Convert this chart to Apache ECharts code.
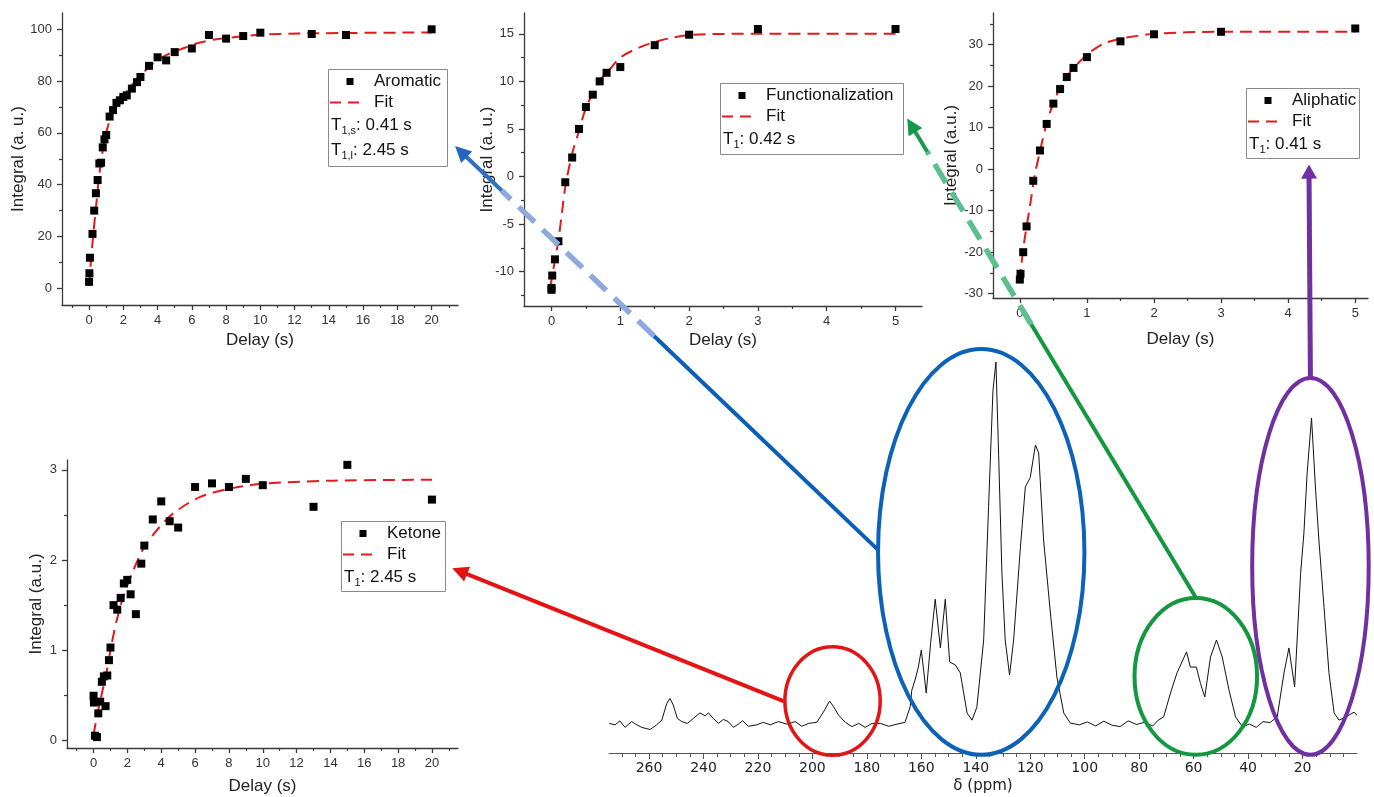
<!DOCTYPE html>
<html><head><meta charset="utf-8">
<script src="https://cdn.jsdelivr.net/npm/echarts@6/dist/echarts.min.js"></script>
<style>html,body{margin:0;padding:0;background:#fff}#c{width:1374px;height:797px}</style>
</head><body><div id="c"></div>
<script>
// ---------------- data ----------------
const aromaticX = [0, 0.02, 0.05, 0.2, 0.3, 0.4, 0.5, 0.6, 0.7, 0.8, 0.9, 1.0, 1.2, 1.4, 1.6, 1.8, 2.0, 2.2, 2.5, 2.8, 3.0, 3.5, 4.0, 4.5, 5.0, 6.0, 7.0, 8.0, 9.0, 10.0, 13.0, 15.0, 20.0];
const aromaticY = [2.5, 5.8, 11.8, 21, 30, 36.7, 41.8, 48.2, 48.5, 54.4, 57.5, 59.2, 66.3, 68.8, 71.6, 72.6, 73.9, 74.5, 77.1, 79.6, 81.6, 85.9, 89.2, 88, 91.2, 92.6, 97.8, 96.4, 97.4, 98.7, 98.2, 97.8, 100];
const aromaticFitX = [0, 0.1, 0.25, 0.41, 0.56, 0.74, 0.99, 1.32, 1.81, 2.39, 2.98, 3.75, 4.53, 5.51, 6.48, 7.45, 8.42, 9.98, 12.3, 20];
const aromaticFitY = [0.9, 9.7, 21.2, 31.5, 41.8, 50.8, 59.8, 66.9, 72.7, 77.6, 82.0, 86.9, 90.1, 92.7, 94.9, 96.2, 96.9, 97.9, 98.4, 98.8];

const funcX = [0, 0, 0.01, 0.05, 0.1, 0.2, 0.3, 0.4, 0.5, 0.6, 0.7, 0.8, 1.0, 1.5, 2.0, 3.0, 5.0];
const funcY = [-11.9, -11.7, -10.4, -8.7, -6.8, -0.6, 2.0, 5.0, 7.3, 8.6, 10.0, 10.9, 11.5, 13.8, 14.9, 15.5, 15.5];
const funcFitX = [-0.02, 0.04, 0.1, 0.15, 0.2, 0.3, 0.4, 0.49, 0.61, 0.7, 0.83, 1.0, 1.29, 1.58, 2.0, 3.0, 5.0];
const funcFitY = [-11.7, -9.2, -6.7, -3.9, -1.1, 2.4, 4.8, 7.0, 8.9, 10.1, 11.1, 12.5, 13.6, 14.3, 14.86, 15, 15];

const aliX = [0, 0.01, 0.05, 0.1, 0.2, 0.3, 0.4, 0.5, 0.6, 0.7, 0.8, 1.0, 1.5, 2.0, 3.0, 5.0];
const aliY = [-26.6, -25.2, -20.0, -13.8, -2.8, 4.5, 10.9, 15.8, 19.3, 22.2, 24.4, 27.0, 30.8, 32.5, 33.1, 33.9];
const aliFitX = [0, 0.02, 0.07, 0.15, 0.22, 0.3, 0.4, 0.5, 0.6, 0.72, 0.85, 1.0, 1.24, 1.49, 1.99, 2.98, 5.0];
const aliFitY = [-27, -23.4, -17, -9, -1.7, 4.3, 11.1, 15.9, 19.6, 22.8, 25.2, 27.6, 30.2, 31.4, 32.6, 33.1, 33.1];

const ketX = [0, 0.02, 0.08, 0.2, 0.28, 0.39, 0.49, 0.61, 0.71, 0.81, 0.91, 1.0, 1.18, 1.4, 1.6, 1.79, 1.99, 2.19, 2.5, 2.82, 3.0, 3.5, 4.0, 4.5, 5.0, 6.0, 7.0, 8.0, 9.0, 10.0, 13.0, 15.0, 20.0];
const ketY = [0.495, 0.42, 0.052, 0.037, 0.30, 0.43, 0.65, 0.71, 0.38, 0.72, 0.89, 1.03, 1.50, 1.45, 1.58, 1.74, 1.78, 1.62, 1.40, 1.96, 2.16, 2.45, 2.65, 2.43, 2.36, 2.81, 2.85, 2.81, 2.90, 2.83, 2.59, 3.055, 2.67];
const ketFitX = [0, 0.2, 0.49, 0.79, 1.08, 1.38, 1.77, 2.36, 2.96, 3.74, 4.73, 6.31, 8.28, 10.25, 14.19, 20];
const ketFitY = [0.06, 0.27, 0.52, 0.78, 1.08, 1.34, 1.6, 1.89, 2.13, 2.33, 2.52, 2.70, 2.80, 2.85, 2.88, 2.89];

const specPpm = [274.6, 272.5, 270.7, 268.8, 266.4, 264.5, 262.7, 259.6, 257.2, 255.3, 253.5, 252.3, 251.1, 249.6, 248.0, 245.9, 243.7, 241.3, 239.4, 238.2, 236.4, 234.5, 232.7, 230.9, 229.0, 227.2, 225.6, 223.5, 220.4, 218.0, 215.5, 212.5, 209.4, 206.3, 203.9, 201.4, 198.4, 195.9, 193.7, 192.2, 190.4, 187.9, 185.5, 183.0, 180.6, 178.1, 175.0, 172.0, 168.9, 166.0, 164.1, 163.5, 162.3, 161.1, 160.0, 158.2, 156.6, 154.9, 153.0, 151.2, 149.6, 147.5, 145.7, 143.2, 141.4, 139.6, 137.1, 135.3, 133.7, 132.6, 131.6, 130.4, 129.2, 127.6, 126.1, 123.6, 121.8, 120.0, 118.1, 116.9, 115.1, 112.6, 110.2, 107.7, 105.3, 102, 99, 96, 93, 90, 87, 84, 81, 78, 75, 73, 71.0, 68.5, 66.1, 62.6, 61.2, 59.0, 57.5, 55.9, 53.8, 51.6, 49.5, 47.0, 44.6, 42.1, 39.5, 37.0, 34.5, 32.0, 29.3, 26.8, 25.0, 22.9, 20.7, 19.5, 18.3, 16.7, 15.2, 14.0, 12.1, 10.3, 8.4, 6.6, 4.1, 1.1, 0];
const specInt = [-0.1, -0.5, 0.6, -1.2, 0.4, -0.5, -1.2, -1.8, -0.5, 0.8, 5.4, 6.8, 5.0, 1.3, 0.4, -0.1, 1.3, 2.8, 2.0, 2.8, 1.3, -0.1, 1.0, 0.4, -1.2, -0.3, 0.6, -0.9, -0.5, 0.2, -0.5, 0.4, -0.3, 0.4, -0.9, -0.1, 0.2, 3.1, 6.1, 4.5, 2.2, 0.2, -1.0, -0.1, -1.2, -0.1, -0.1, -0.9, -0.3, 0.2, 4.5, 9.1, 11.9, 15.5, 20.2, 8.3, 22, 34.3, 20.8, 34.3, 16.9, 16.1, 13.9, 2.8, 0.8, 4.4, 23, 60, 92, 100, 74, 41.5, 23, 13.3, 23, 48.8, 65.4, 68, 77, 74.8, 50.7, 30.5, 12.7, 2.8, 0, -0.5, 0.3, -0.8, 0.5, -0.6, -1.0, 0.6, -0.4, 0.2, -0.8, 0.8, 1.7, 8.3, 13.9, 19.7, 15.5, 15.5, 11, 7.2, 18.3, 23, 18.3, 9.1, 1.7, -1.0, -0.3, -1.2, 0.4, 0.1, 1.7, 13.9, 20.8, 10, 41.5, 52.6, 69.3, 84.5, 64.5, 50.7, 32, 13.9, 2.8, 0.8, 1.7, 3.0, 2.2];

// tick labels / tick positions
const aroXLabels = [0, 2, 4, 6, 8, 10, 12, 14, 16, 18, 20];
const aroXMinor = [-1, 1, 3, 5, 7, 9, 11, 13, 15, 17, 19, 21];
const aroYLabels = [0, 20, 40, 60, 80, 100];
const aroYMinor = [10, 30, 50, 70, 90];
const funcXLabels = [0, 1, 2, 3, 4, 5];
const funcXMinor = [0.5, 1.5, 2.5, 3.5, 4.5];
const funcYLabels = [-10, -5, 0, 5, 10, 15];
const funcYMinor = [-12.5, -7.5, -2.5, 2.5, 7.5, 12.5];
const aliXLabels = [0, 1, 2, 3, 4, 5];
const aliXMinor = [0.5, 1.5, 2.5, 3.5, 4.5];
const aliYLabels = [-30, -20, -10, 0, 10, 20, 30];
const aliYMinor = [-25, -15, -5, 5, 15, 25, 35];
const ketXLabels = [0, 2, 4, 6, 8, 10, 12, 14, 16, 18, 20];
const ketXMinor = [-1, 1, 3, 5, 7, 9, 11, 13, 15, 17, 19, 21];
const ketYLabels = [0, 1, 2, 3];
const ketYMinor = [0.5, 1.5, 2.5];
const specLabels = [20, 40, 60, 80, 100, 120, 140, 160, 180, 200, 220, 240, 260];
const specMinor = [5, 10, 15, 25, 30, 35, 45, 50, 55, 65, 70, 75, 85, 90, 95, 105, 110, 115, 125, 130, 135, 145, 150, 155, 165, 170, 175, 185, 190, 195, 205, 210, 215, 225, 230, 235, 245, 250, 255, 265, 270];

// ---------------- layout ----------------
const FONT = '"Liberation Sans", Arial, sans-serif';
const SFONT = '"DejaVu Sans", Verdana, sans-serif';
const zip = (a, b) => a.map((v, i) => [v, b[i]]);

const plots = [
  { grid: {left: 62, top: 13, width: 396, height: 292}, xr: [-1.58, 21.54], yr: [-6.45, 106.3],
    xl: aroXLabels, xm: aroXMinor, yl: aroYLabels, ym: aroYMinor, yName: 'Integral (a. u.)', xGap: 27, yGap: 35,
    pts: zip(aromaticX, aromaticY), fit: zip(aromaticFitX, aromaticFitY) },
  { grid: {left: 524, top: 13, width: 398, height: 293}, xr: [-0.4, 5.385], yr: [-13.6, 17.18],
    xl: funcXLabels, xm: funcXMinor, yl: funcYLabels, ym: funcYMinor, yName: 'Integral (a. u.)', xGap: 26, yGap: 28,
    pts: zip(funcX, funcY), fit: zip(funcFitX, funcFitY) },
  { grid: {left: 993, top: 13, width: 375, height: 285}, xr: [-0.4, 5.19], yr: [-31.04, 37.63],
    xl: aliXLabels, xm: aliXMinor, yl: aliYLabels, ym: aliYMinor, yName: 'Integral (a.u.)', xGap: 33, yGap: 33,
    pts: zip(aliX, aliY), fit: zip(aliFitX, aliFitY) },
  { grid: {left: 67, top: 460, width: 391, height: 288}, xr: [-1.57, 21.54], yr: [-0.084, 3.109],
    xl: ketXLabels, xm: ketXMinor, yl: ketYLabels, ym: ketYMinor, yName: 'Integral (a.u.)', xGap: 30, yGap: 22,
    pts: zip(ketX, ketY), fit: zip(ketFitX, ketFitY) }
];

const AX = '#3a3a3a';
const grids = [], xAxes = [], yAxes = [], series = [];
plots.forEach((p, i) => {
  grids.push(Object.assign({containLabel: false}, p.grid));
  const base = {type: 'value', gridIndex: i, splitLine: {show: false}};
  xAxes.push(Object.assign({}, base, {
    min: p.xr[0], max: p.xr[1], position: 'bottom',
    axisLine: {show: true, onZero: false, lineStyle: {color: AX, width: 1.3}},
    axisTick: {show: true, length: 5, customValues: p.xl, lineStyle: {color: AX, width: 1.3}},
    axisLabel: {customValues: p.xl, margin: 9, fontSize: 13, color: '#333', fontFamily: FONT},
    name: 'Delay (s)', nameLocation: 'middle', nameGap: p.xGap, nameMoveOverlap: false,
    nameTextStyle: {fontSize: 17, color: '#222', fontFamily: FONT}
  }));
  xAxes.push(Object.assign({}, base, {
    min: p.xr[0], max: p.xr[1], position: 'bottom',
    axisLine: {show: false, onZero: false}, axisLabel: {show: false},
    axisTick: {show: true, length: 3, customValues: p.xm, lineStyle: {color: AX, width: 1.2}}
  }));
  yAxes.push(Object.assign({}, base, {
    min: p.yr[0], max: p.yr[1], position: 'left',
    axisLine: {show: true, onZero: false, lineStyle: {color: AX, width: 1.3}},
    axisTick: {show: true, length: 5, customValues: p.yl, lineStyle: {color: AX, width: 1.3}},
    axisLabel: {customValues: p.yl, margin: 10, fontSize: 13, color: '#333', fontFamily: FONT},
    name: p.yName, nameLocation: 'middle', nameGap: p.yGap, nameMoveOverlap: false,
    nameTextStyle: {fontSize: 17, color: '#222', fontFamily: FONT}
  }));
  yAxes.push(Object.assign({}, base, {
    min: p.yr[0], max: p.yr[1], position: 'left',
    axisLine: {show: false, onZero: false}, axisLabel: {show: false},
    axisTick: {show: true, length: 3, customValues: p.ym, lineStyle: {color: AX, width: 1.2}}
  }));
  series.push({type: 'line', xAxisIndex: 2 * i, yAxisIndex: 2 * i, data: p.fit, showSymbol: false,
    smooth: 0.3, lineStyle: {color: '#e31a1c', width: 2, type: [12, 7]}, z: 3, silent: true});
  series.push({type: 'scatter', xAxisIndex: 2 * i, yAxisIndex: 2 * i, data: p.pts, symbol: 'rect',
    symbolSize: 8, itemStyle: {color: '#000', opacity: 1}, z: 4, silent: true});
});

// spectrum
grids.push({left: 609, top: 362, width: 748, height: 391});
xAxes.push({type: 'value', gridIndex: 4, inverse: true, min: 0, max: 274.7, position: 'bottom',
  splitLine: {show: false},
  axisLine: {show: true, onZero: false, lineStyle: {color: '#555', width: 1}},
  axisTick: {show: true, length: 6, customValues: specLabels, lineStyle: {color: '#555', width: 1}},
  axisLabel: {customValues: specLabels, margin: 8, fontSize: 14, color: '#222', fontFamily: SFONT},
  name: 'δ (ppm)', nameLocation: 'middle', nameGap: 26, nameMoveOverlap: false,
  nameTextStyle: {fontSize: 15, color: '#222', fontFamily: SFONT}});
xAxes.push({type: 'value', gridIndex: 4, inverse: true, min: 0, max: 274.7, position: 'bottom',
  splitLine: {show: false}, axisLine: {show: false, onZero: false}, axisLabel: {show: false},
  axisTick: {show: true, length: 4, customValues: specMinor, lineStyle: {color: '#555', width: 1}}});
yAxes.push({type: 'value', gridIndex: 4, min: -8.3, max: 100, show: false, splitLine: {show: false}});
series.push({type: 'line', xAxisIndex: 8, yAxisIndex: 8, data: zip(specPpm, specInt), showSymbol: false,
  lineStyle: {color: '#111', width: 1}, z: 2, silent: true});

const chart = echarts.init(document.getElementById('c'));
chart.setOption({animation: false, backgroundColor: '#fff', grid: grids, xAxis: xAxes, yAxis: yAxes, series: series});

// ---------------- annotations (anchored in data space) ----------------
const toPx = (g, pt) => chart.convertToPixel({xAxisIndex: 2 * g, yAxisIndex: 2 * g}, pt);
const specPx = pt => chart.convertToPixel({xAxisIndex: 8, yAxisIndex: 8}, pt);
const els = [];

function legend(g, box, name, tRows) {
  const b = box;
  els.push({type: 'rect', shape: {x: b[0] + 0.5, y: b[1] + 0.5, width: b[2], height: b[3]},
    style: {fill: '#fff', stroke: '#8a8a8a', lineWidth: 1}, z: 50});
  els.push({type: 'rect', shape: {x: b[0] + 18.5, y: b[1] + 9, width: 7, height: 7}, style: {fill: '#000'}, z: 51});
  els.push({type: 'text', x: b[0] + 46, y: b[1] + 12.5, style: {text: name, font: '17px ' + FONT, fill: '#111',
    verticalAlign: 'middle'}, z: 51});
  els.push({type: 'line', shape: {x1: b[0] + 2, y1: b[1] + 33.5, x2: b[0] + 34, y2: b[1] + 33.5},
    style: {stroke: '#e31a1c', lineWidth: 2, lineDash: [11, 7]}, z: 51});
  els.push({type: 'text', x: b[0] + 46, y: b[1] + 33.5, style: {text: 'Fit', font: '17px ' + FONT, fill: '#111',
    verticalAlign: 'middle'}, z: 51});
  tRows.forEach((r, k) => {
    els.push({type: 'text', x: b[0] + 3, y: b[1] + 45 + k * 25, style: {
      text: '{m|T}{s|' + r[0] + '}{m|: ' + r[1] + '}',
      rich: {m: {font: '17px ' + FONT, fill: '#111', lineHeight: 22, verticalAlign: 'middle'},
             s: {font: '11px ' + FONT, fill: '#111', lineHeight: 22, verticalAlign: 'bottom'}}
    }, z: 51});
  });
}
legend(0, [328, 69, 119, 97], 'Aromatic', [['1,s', '0.41 s'], ['1,l', '2.45 s']]);
legend(1, [720, 83, 183, 71], 'Functionalization', [['1', '0.42 s']]);
legend(2, [1246, 88, 113, 70], 'Aliphatic', [['1', '0.41 s']]);
legend(3, [341, 521, 104, 70], 'Ketone', [['1', '2.45 s']]);

// ellipses around spectrum regions: [ppm, intensity, rxPpm, ryInt, color, width]
const rings = [
  [192.6, 6.1, 17.5, 15.0, '#e41414', 3.5],
  [138.0, 47.4, 37.9, 56.2, '#0b62b8', 4],
  [59.2, 12.9, 22.5, 21.7, '#14983f', 4],
  [17.1, 43.4, 21.4, 52.2, '#7030a0', 4]
];
rings.forEach(r => {
  const c = specPx([r[0], r[1]]);
  const ex = specPx([r[0] - r[2], r[1]]);
  const ey = specPx([r[0], r[1] + r[3]]);
  els.push({type: 'ellipse', shape: {cx: c[0], cy: c[1], rx: Math.abs(ex[0] - c[0]), ry: Math.abs(c[1] - ey[1])},
    style: {fill: 'none', stroke: r[4], lineWidth: r[5]}, z: 40});
});

function arrow(p0, p1, segs, headColor, headLen, headW) {
  const dx = p1[0] - p0[0], dy = p1[1] - p0[1];
  const L = Math.hypot(dx, dy), ux = dx / L, uy = dy / L;
  const tEnd = 1 - (headLen - 2) / L;
  segs.forEach(s => {
    const a = s[0], b = Math.min(s[1], tEnd);
    els.push({type: 'line', shape: {x1: p0[0] + dx * a, y1: p0[1] + dy * a, x2: p0[0] + dx * b, y2: p0[1] + dy * b},
      style: {stroke: s[2], lineWidth: s[3], lineDash: s[4] || null, lineCap: 'butt'}, z: 60});
  });
  const bx = p1[0] - ux * headLen, by = p1[1] - uy * headLen;
  els.push({type: 'polygon', shape: {points: [[p1[0], p1[1]], [bx - uy * headW, by + ux * headW], [bx + uy * headW, by - ux * headW]]},
    style: {fill: headColor}, z: 61});
}
arrow(specPx([175.8, 47.9]), toPx(0, [21.37, 54.9]),
  [[0, 0.53, '#0b5fb8', 4], [0.53, 0.89, '#8eaadc', 5.5, [22, 11]], [0.89, 1, '#2f6fc2', 4]], '#2466bd', 16, 8);
arrow(specPx([59.3, 34.9]), toPx(1, [5.17, 6.1]),
  [[0, 0.57, '#14983f', 4], [0.57, 0.93, '#5cbf8e', 5.5, [22, 11]], [0.93, 1, '#1a9a4a', 4]], '#16984a', 16, 8);
arrow(specPx([17.1, 95.3]), toPx(2, [4.31, 1.1]), [[0, 1, '#7030a0', 5]], '#7030a0', 14, 8);
arrow(specPx([210.4, 6.0]), toPx(3, [21.2, 1.91]), [[0, 1, '#e41414', 4]], '#e41414', 16, 8);

chart.setOption({graphic: {elements: els}});
</script>
</body></html>
